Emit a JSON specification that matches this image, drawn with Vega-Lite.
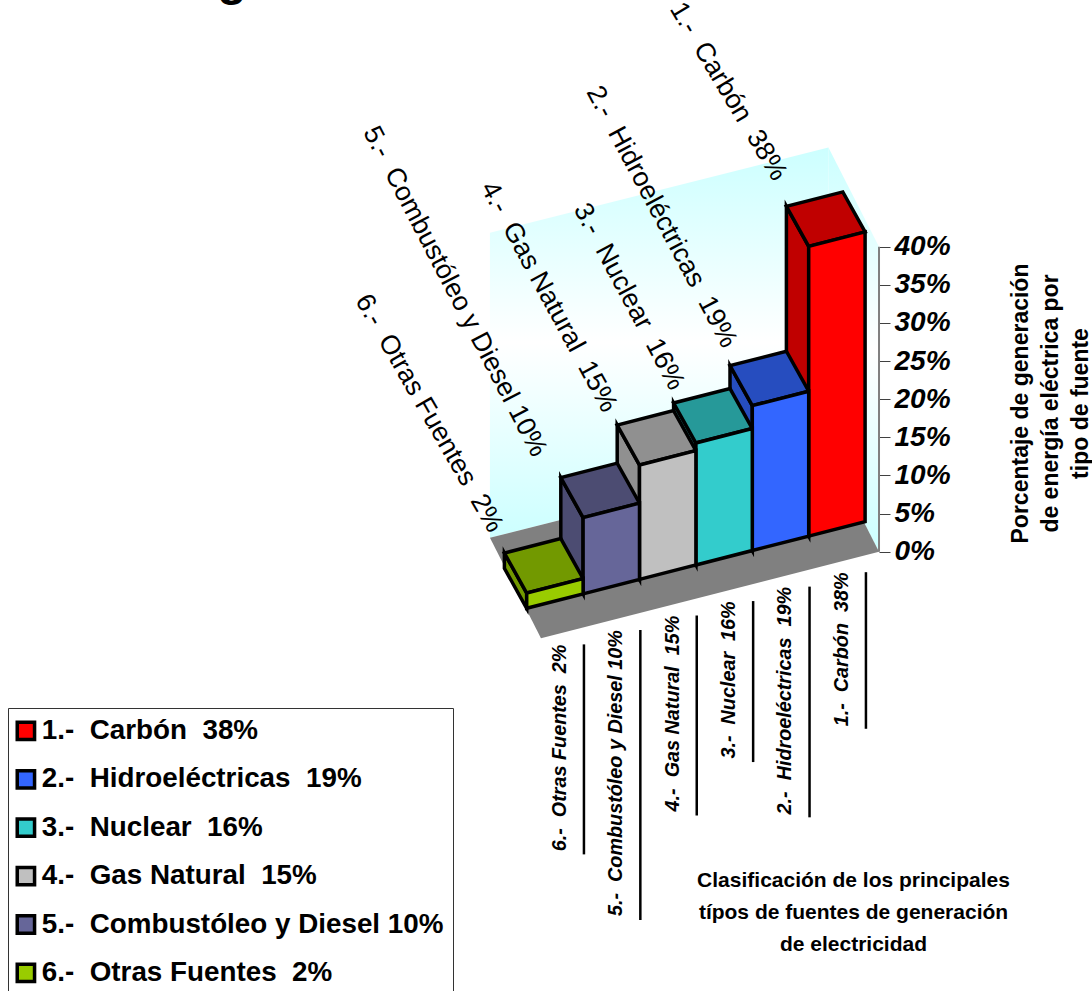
{
"$schema":"https://vega.github.io/schema/vega-lite/v6.json",
"width":1092,"height":991,"padding":0,"autosize":{"type":"none"},"background":"white",
"config":{"font":"Liberation Sans","view":{"stroke":null}},
"datasets":{
"barras":[
{"fuente":"1.-  Carbón  38%","orden":5,"pct":38},
{"fuente":"2.-  Hidroeléctricas  19%","orden":4,"pct":19},
{"fuente":"3.-  Nuclear  16%","orden":3,"pct":16},
{"fuente":"4.-  Gas Natural  15%","orden":2,"pct":15},
{"fuente":"5.-  Combustóleo y Diesel 10%","orden":1,"pct":10},
{"fuente":"6.-  Otras Fuentes  2%","orden":0,"pct":2}
],
"marco":[
{"pieza":"pared","k":0,"u":0.04,"v":1.75,"h":0},
{"pieza":"pared","k":1,"u":0.04,"v":1.75,"h":40},
{"pieza":"pared","k":2,"u":6.03,"v":1.72,"h":40},
{"pieza":"pared","k":3,"u":6.03,"v":1.72,"h":0},
{"pieza":"lateral","k":0,"u":6.03,"v":1.72,"h":0},
{"pieza":"lateral","k":1,"u":6.03,"v":1.72,"h":40},
{"pieza":"lateral","k":2,"u":5.956,"v":-0.735,"h":40},
{"pieza":"lateral","k":3,"u":5.956,"v":-0.735,"h":0},
{"pieza":"piso","k":0,"u":-0.038,"v":-0.736,"h":0},
{"pieza":"piso","k":1,"u":5.956,"v":-0.735,"h":0},
{"pieza":"piso","k":2,"u":6.03,"v":1.72,"h":0},
{"pieza":"piso","k":3,"u":0.04,"v":1.75,"h":0},
{"pieza":"eje","k":0,"u":5.956,"v":-0.735,"h":0},
{"pieza":"eje","k":1,"u":5.956,"v":-0.735,"h":40}
]},
"encoding":{
"x":{"field":"px","type":"quantitative","scale":{"domain":[0,1092],"nice":false,"zero":false},
 "axis":{"orient":"bottom","domain":false,"ticks":false,"labels":false,"grid":false,
  "title":["Clasificación de los principales","típos de fuentes de generación","de electricidad"],
  "titleFontSize":21,"titleFontWeight":"bold","titleColor":"black","titleX":853,"titleY":-111,"titleAlign":"center","titleBaseline":"middle","titleLineHeight":32}},
"y":{"field":"py","type":"quantitative","scale":{"domain":[-57.613,72.354],"nice":false,"zero":false},
 "axis":{"orient":"right","offset":-213,"values":[0,5,10,15,20,25,30,35,40],"labelExpr":"datum.value+'%'","domain":false,"grid":false,
  "tickColor":"#404040","tickSize":11,"tickWidth":1,"labelFontSize":28,"labelFontWeight":"bold","labelFontStyle":"italic","labelColor":"black","labelPadding":4,"labelAlign":"left",
  "title":["Porcentaje de generación","de energía eléctrica por","tipo de fuente"],
  "titleFontSize":23,"titleFontWeight":"bold","titleColor":"black","titleAngle":270,"titleX":141,"titleY":403,"titleAlign":"center","titleBaseline":"middle","titleLineHeight":30}}
},
"layer":[
{"data":{"name":"marco"},
 "transform":[{"filter":"datum.pieza=='pared'||datum.pieza=='lateral'"},
  {"calculate":"526.7+56.4*datum.u-22.3*datum.v","as":"px"},
  {"calculate":"datum.h+(14.44*datum.u+40*datum.v-56.6)/7.625","as":"py"}],
 "mark":{"type":"line","interpolate":"linear-closed","strokeWidth":0,
  "fill":{"x1":0,"y1":0,"x2":0,"y2":1,"gradient":"linear","stops":[{"offset":0,"color":"#ccffff"},{"offset":0.5,"color":"#ffffff"},{"offset":1,"color":"#ccffff"}]}},
 "encoding":{"detail":{"field":"pieza"},"order":{"field":"k","type":"quantitative"}}},
{"data":{"name":"marco"},
 "transform":[{"filter":"datum.pieza=='piso'"},
  {"calculate":"526.7+56.4*datum.u-22.3*datum.v","as":"px"},
  {"calculate":"datum.h+(14.44*datum.u+40*datum.v-56.6)/7.625","as":"py"}],
 "mark":{"type":"line","interpolate":"linear-closed","strokeWidth":0,"fill":"#808080"},
 "encoding":{"detail":{"field":"pieza"},"order":{"field":"k","type":"quantitative"}}},
{"data":{"name":"marco"},
 "transform":[{"filter":"datum.pieza=='eje'"},
  {"calculate":"526.7+56.4*datum.u-22.3*datum.v","as":"px"},
  {"calculate":"datum.h+(14.44*datum.u+40*datum.v-56.6)/7.625","as":"py"}],
 "mark":{"type":"line","color":"#808080","strokeWidth":2},
 "encoding":{"order":{"field":"k","type":"quantitative"}}},
{"data":{"name":"barras"},
 "transform":[
  {"calculate":"['lado','tapa']","as":"cara"},{"flatten":["cara"]},
  {"calculate":"[0,1,2,3]","as":"k"},{"flatten":["k"]},
  {"calculate":"datum.orden+'-'+datum.cara","as":"parte"},
  {"calculate":"datum.orden+(datum.cara=='tapa'&&(datum.k==1||datum.k==2)?1:0)","as":"u"},
  {"calculate":"datum.cara=='tapa'?(datum.k>=2?1:0):((datum.k==1||datum.k==2)?1:0)","as":"v"},
  {"calculate":"datum.cara=='tapa'?datum.pct:(datum.k>=2?datum.pct:0)","as":"h"},
  {"calculate":"526.7+56.4*datum.u-22.3*datum.v","as":"px"},
  {"calculate":"datum.h+(14.44*datum.u+40*datum.v-56.6)/7.625","as":"py"}],
 "mark":{"type":"line","interpolate":"linear-closed","stroke":"black","strokeWidth":3.5,"strokeJoin":"miter"},
 "encoding":{"detail":{"field":"parte"},"order":{"field":"k","type":"quantitative"},
  "fill":{"field":"orden","type":"nominal","legend":null,"scale":{"domain":[5,4,3,2,1,0],"range":["#c00000","#264dbf","#269999","#909090","#4c4c72","#729900"]}}}},
{"data":{"name":"barras"},
 "transform":[
  {"calculate":"[0,1]","as":"k"},{"flatten":["k"]},
  {"calculate":"datum.orden+datum.k","as":"u"},
  {"calculate":"526.7+56.4*datum.u","as":"px"},
  {"calculate":"(14.44*datum.u-56.6)/7.625","as":"py"},
  {"calculate":"datum.py+datum.pct","as":"ptop"},
  {"calculate":"replace(replace(datum.fuente,'  ','\u00a0\u00a0'),'  ','\u00a0\u00a0')","as":"etiqueta"}],
 "mark":{"type":"area","orient":"vertical","stroke":"black","strokeWidth":3.5,"strokeJoin":"miter"},
 "encoding":{
  "y2":{"field":"ptop"},
  "color":{"field":"etiqueta","type":"nominal","sort":null,
   "scale":{"domain":["1.-\u00a0\u00a0Carbón\u00a0\u00a038%","2.-\u00a0\u00a0Hidroeléctricas\u00a0\u00a019%","3.-\u00a0\u00a0Nuclear\u00a0\u00a016%","4.-\u00a0\u00a0Gas Natural\u00a0\u00a015%","5.-\u00a0\u00a0Combustóleo y Diesel 10%","6.-\u00a0\u00a0Otras Fuentes\u00a0\u00a02%"],"range":["#ff0000","#3366ff","#33cccc","#c0c0c0","#666699","#99cc00"]},
   "legend":{"title":null,"orient":"none","legendX":8,"legendY":708,"fillColor":"white","strokeColor":"#333333","padding":9,"symbolOffset":-5,"symbolType":"square","symbolSize":300,"symbolStrokeColor":"black","symbolStrokeWidth":3.5,"symbolOpacity":1,"labelFontSize":27.8,"labelFontWeight":"bold","labelColor":"black","labelOffset":2,"rowPadding":16.4,"labelLimit":500}}}},
{"data":{"name":"barras"},
 "transform":[
  {"calculate":"replace(replace(datum.fuente,'  ','\u00a0\u00a0'),'  ','\u00a0\u00a0')","as":"etiqueta"},
  {"calculate":"[-8,-21,-7,4,0,-6][datum.orden]","as":"ax"},
  {"calculate":"[-23,-23,-15,-15,-20,-28][datum.orden]","as":"ay"},
  {"calculate":"[60,62.5,61.5,62,62,59][datum.orden]","as":"giro"},
  {"calculate":"526.7+56.4*datum.orden-22.3+datum.ax","as":"px"},
  {"calculate":"datum.pct+(14.44*datum.orden+40-56.6-datum.ay)/7.625","as":"py"}],
 "mark":{"type":"text","align":"right","baseline":"middle","fontSize":26.8,"color":"black"},
 "encoding":{"text":{"field":"etiqueta"},"angle":{"field":"giro","type":"quantitative","scale":null}}},
{"data":{"name":"barras"},
 "transform":[
  {"calculate":"replace(replace(datum.fuente,'  ','\u00a0\u00a0'),'  ','\u00a0\u00a0')","as":"etiqueta"},
  {"calculate":"datum.orden+0.2","as":"u"},
  {"calculate":"526.7+56.4*datum.u+22.3*0.98","as":"px"},
  {"calculate":"(14.44*datum.u-40*0.98-56.6)/7.625","as":"py"}],
 "mark":{"type":"text","align":"right","baseline":"middle","angle":270,"fontSize":19.8,"fontWeight":"bold","fontStyle":"italic","color":"black"},
 "encoding":{"text":{"field":"etiqueta"}}},
{"data":{"name":"barras"},
 "transform":[
  {"calculate":"datum.orden+0.576","as":"u"},
  {"calculate":"526.7+56.4*datum.u+22.3*1.11","as":"px"},
  {"calculate":"(14.44*datum.u-40*1.11-56.6)/7.625","as":"py"},
  {"calculate":"datum.py-[210,290,200,161,230.7,156.6][datum.orden]/7.625","as":"py2"}],
 "mark":{"type":"rule","color":"black","strokeWidth":2.5},
 "encoding":{"y2":{"field":"py2"}}},
{"data":{"values":[{"resto":"g","px":232,"py":73}]},
 "mark":{"type":"text","align":"center","baseline":"alphabetic","fontSize":48,"fontWeight":"bold","color":"black"},
 "encoding":{"text":{"field":"resto"}}}
]
}
